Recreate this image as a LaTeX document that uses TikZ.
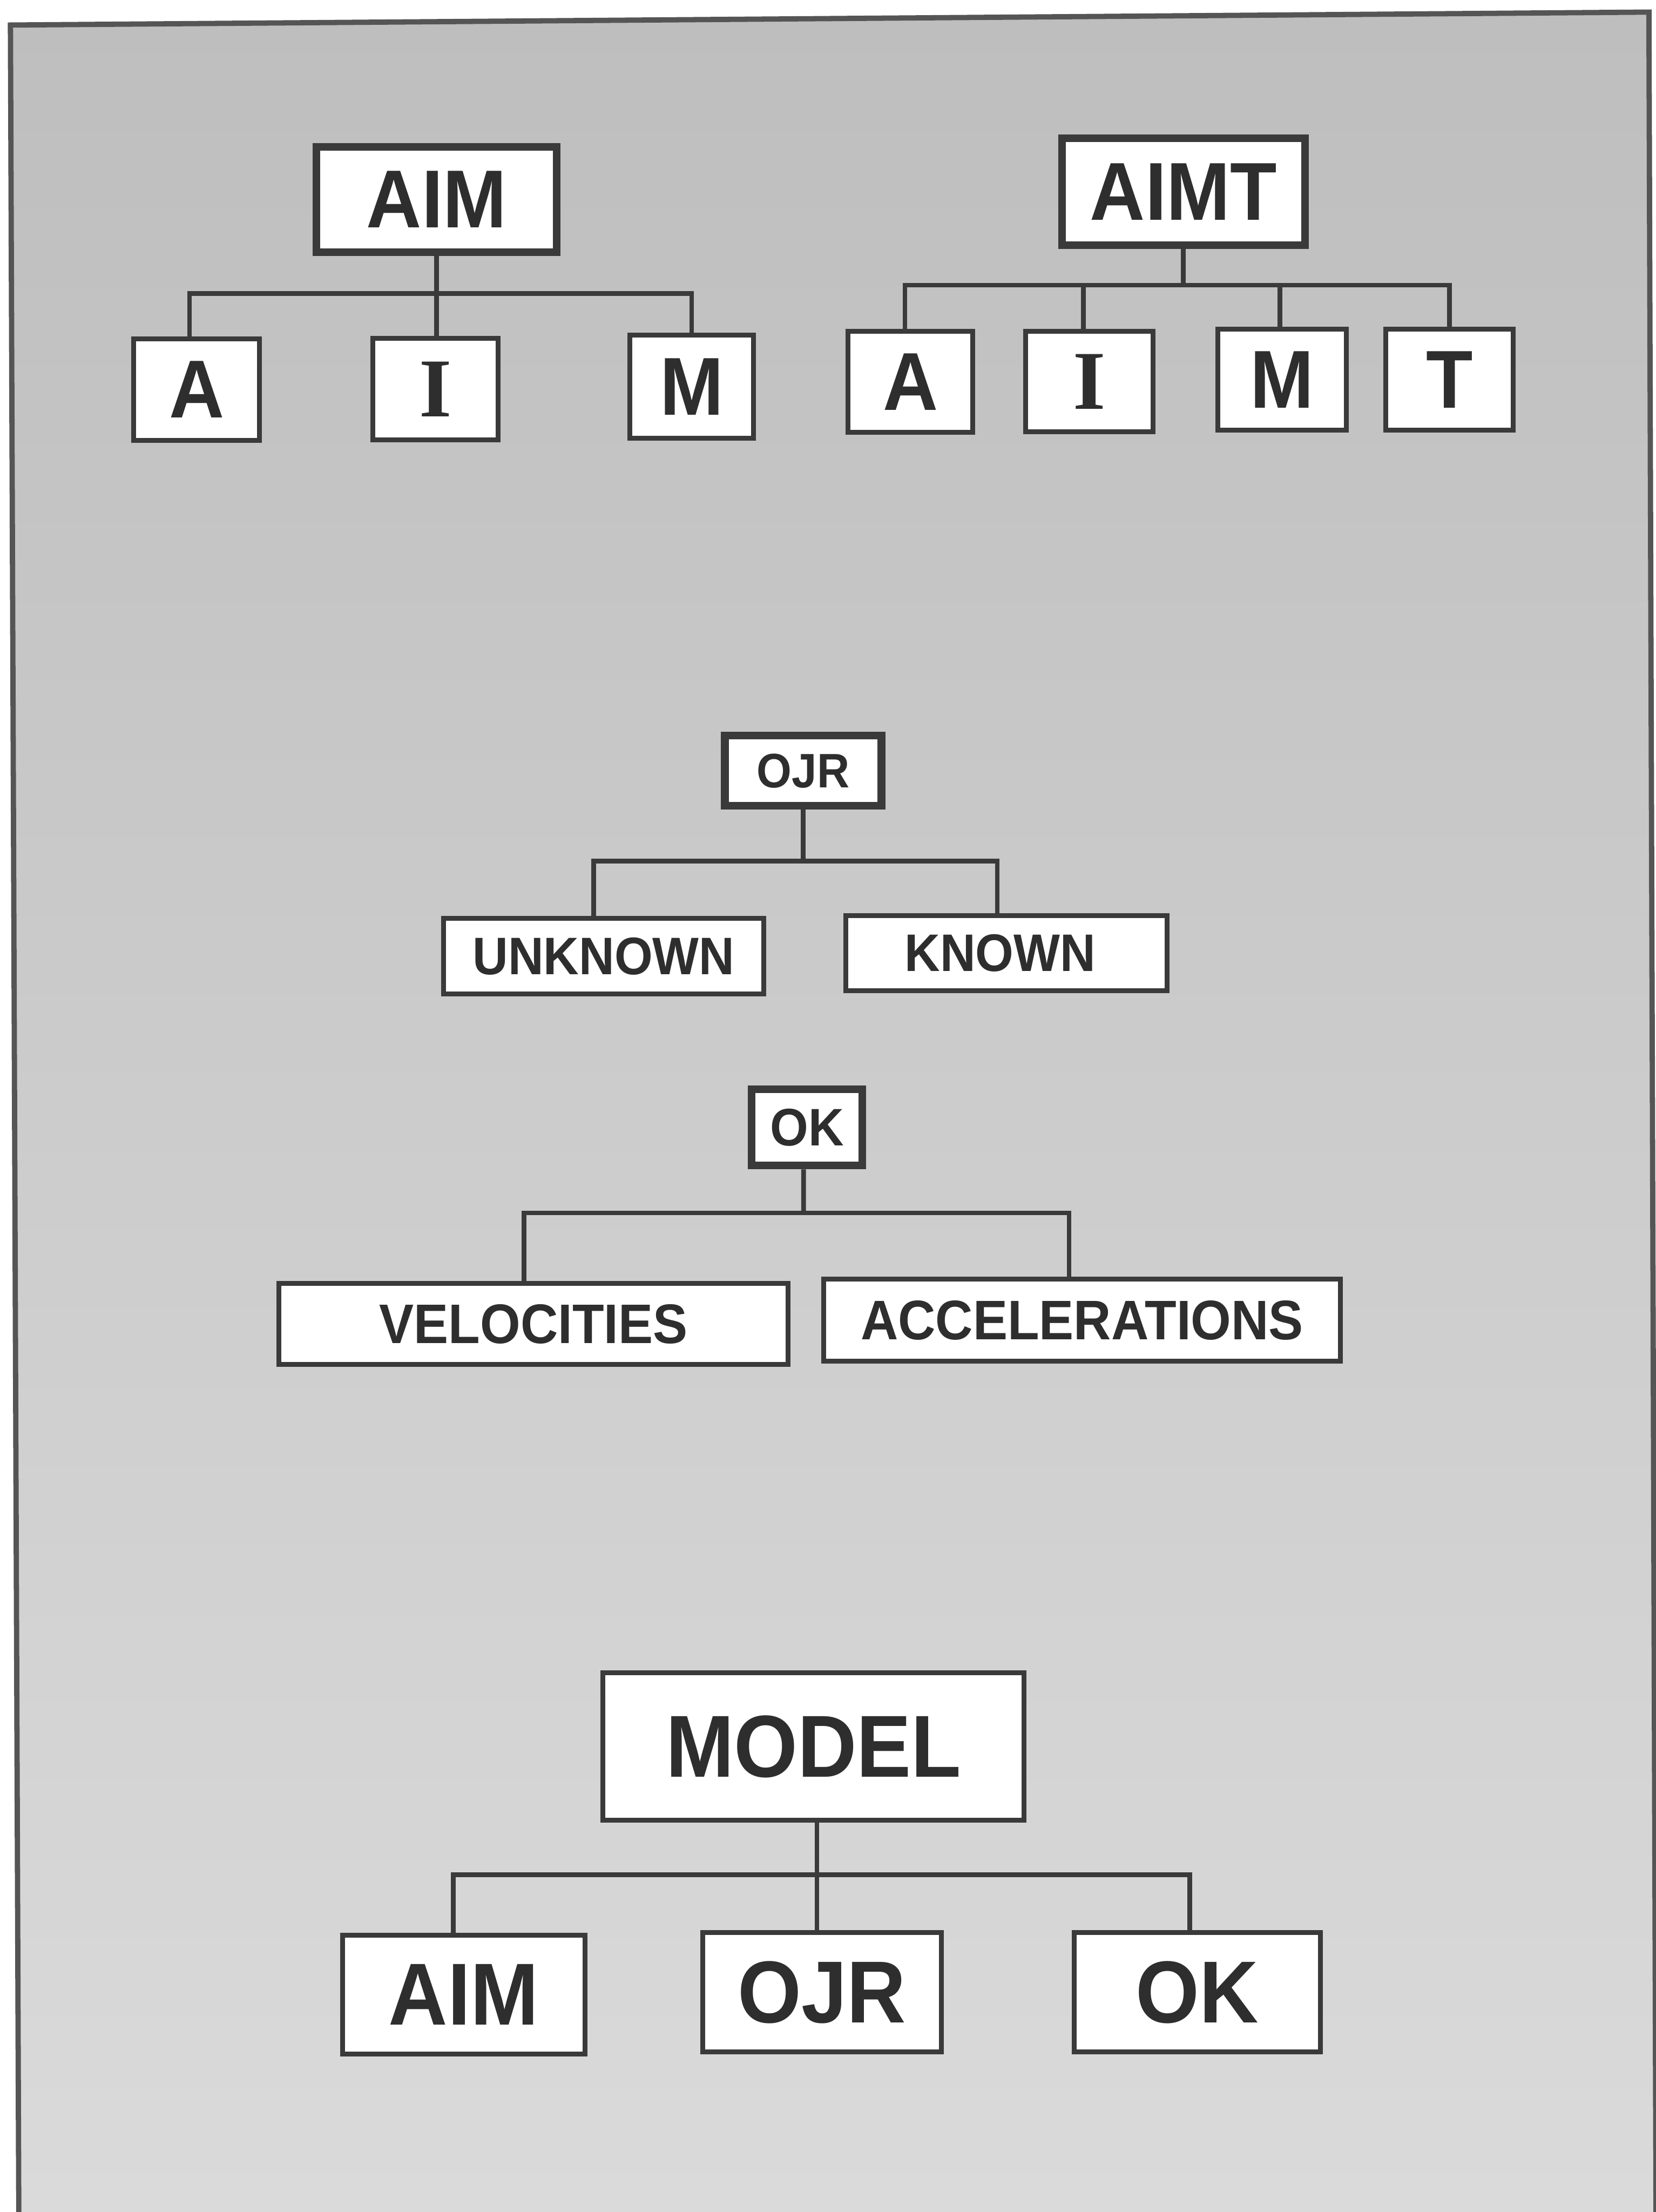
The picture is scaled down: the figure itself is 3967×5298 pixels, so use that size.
\documentclass[tikz,border=0pt]{standalone}
\usepackage{fontspec}
\setmainfont{Liberation Sans}
\newfontfamily\hv[FakeStretch=0.93]{Liberation Sans}
\newfontfamily\tm{Liberation Serif}
\definecolor{boxline}{HTML}{3A3A3A}
\definecolor{txt}{HTML}{2E2E2E}
\definecolor{bgtop}{HTML}{BEBEBE}
\definecolor{bgbot}{HTML}{DADADA}
\definecolor{framecol}{HTML}{555555}
\tikzset{
  rootbox/.style={draw=boxline, line width=5.2pt, fill=white, inner sep=0pt, text=txt, font=\hv\bfseries},
  kidbox/.style={draw=boxline, line width=3.3pt, fill=white, inner sep=0pt, text=txt, font=\hv\bfseries},
  conn/.style={draw=boxline, line width=3.2pt},
  big/.style={font=\hv\bfseries\fontsize{56}{60}\selectfont},
  bigI/.style={font=\tm\bfseries\fontsize{57}{60}\selectfont},
  huge/.style={font=\hv\bfseries\fontsize{60}{64}\selectfont},
  mid/.style={font=\hv\bfseries\fontsize{36}{40}\selectfont},
  midb/.style={font=\hv\bfseries\fontsize{38}{42}\selectfont},
  small/.style={font=\hv\bfseries\fontsize{33}{36}\selectfont},
}
\begin{document}
\begin{tikzpicture}[x=0.1mm, y=-0.1mm]
\useasboundingbox (0,0) rectangle (3967,5298);
\fill[white] (0,0) rectangle (3967,5298);
\shade[top color=bgtop, bottom color=bgbot] (25,60) -- (3950,29) -- (3967,5298) -- (45,5298) -- cycle;
\draw[framecol, line width=3.6pt] (45,5298) -- (25,60) -- (3950,29) -- (3967,5298);

% ---- AIM tree
\node[rootbox, big, minimum width=57.5mm, minimum height=25.3mm] (aimr) at (1046,478) {AIM};
\node[kidbox, big, minimum width=30.2mm, minimum height=24.3mm] (a1) at (471,933) {A};
\node[kidbox, bigI, minimum width=30.0mm, minimum height=24.4mm] (i1) at (1043,932) {I};
\node[kidbox, big, minimum width=29.7mm, minimum height=24.7mm] (m1) at (1657,926) {M};
\coordinate (aimbar) at (1046,703);
\draw[conn] (aimr.south) -- (aimr.south |- i1.north);
\draw[conn] ([xshift=-1.7mm]a1.north) |- (m1.north |- aimbar) -- (m1.north);

% ---- AIMT tree
\node[rootbox, big, minimum width=58.2mm, minimum height=25.6mm] (aimtr) at (2835,459) {AIMT};
\node[kidbox, big, minimum width=29.9mm, minimum height=24.2mm] (a2) at (2181,915) {A};
\node[kidbox, bigI, minimum width=30.5mm, minimum height=24.1mm] (i2) at (2610,914) {I};
\node[kidbox, big, minimum width=30.8mm, minimum height=24.2mm] (m2) at (3071,909) {M};
\node[kidbox, big, minimum width=30.5mm, minimum height=24.2mm] (t2) at (3472,909) {T};
\coordinate (aimtbar) at (2835,683);
\draw[conn] (aimtr.south) -- (aimtbar);
\draw[conn] ([xshift=-1.3mm]a2.north) |- (t2.north |- aimtbar) -- (t2.north);
\draw[conn] ([xshift=-1.5mm]i2.north) -- ([xshift=-1.5mm]i2.north |- aimtbar);
\draw[conn] ([xshift=-0.5mm]m2.north) -- ([xshift=-0.5mm]m2.north |- aimtbar);

% ---- OJR tree
\node[rootbox, small, minimum width=37.5mm, minimum height=16.8mm] (ojr) at (1924,1846) {OJR};
\node[kidbox, mid, minimum width=76.8mm, minimum height=18.1mm] (unk) at (1446,2290) {UNKNOWN};
\node[kidbox, mid, minimum width=76.9mm, minimum height=17.9mm] (kn) at (2411,2283) {\hspace*{-3mm}KNOWN};
\coordinate (ojrbar) at (1922,2062);
\draw[conn] (ojr.south) -- (ojr.south |- ojrbar);
\draw[conn] ([xshift=-2.4mm]unk.north) |- ([xshift=-2.2mm]kn.north |- ojrbar) -- ([xshift=-2.2mm]kn.north);

% ---- OK tree
\node[rootbox, mid, minimum width=26.6mm, minimum height=18.3mm] (ok) at (1933,2700) {OK};
\node[kidbox, midb, minimum width=121.9mm, minimum height=19.4mm] (vel) at (1278,3171) {VELOCITIES};
\node[kidbox, midb, minimum width=123.7mm, minimum height=19.7mm] (acc) at (2592,3162) {ACCELERATIONS};
\coordinate (okbar) at (1925,2905);
\draw[conn] ([xshift=-0.8mm]ok.south) -- (okbar);
\draw[conn] ([xshift=-2.3mm]vel.north) |- ([xshift=-3.1mm]acc.north |- okbar) -- ([xshift=-3.1mm]acc.north);

% ---- MODEL tree
\node[kidbox, huge, minimum width=100.9mm, minimum height=35.4mm] (model) at (1949,4183) {MODEL};
\node[kidbox, huge, minimum width=58.0mm, minimum height=28.5mm] (aim3) at (1111,4777) {AIM};
\node[kidbox, huge, minimum width=57.2mm, minimum height=28.6mm] (ojr3) at (1969,4772) {OJR};
\node[kidbox, huge, minimum width=59.0mm, minimum height=28.6mm] (ok3) at (2868,4772) {OK};
\coordinate (modbar) at (1957,4490);
\draw[conn] (model.south -| modbar) -- (ojr3.north -| modbar);
\draw[conn] ([xshift=-2.5mm]aim3.north) |- ([xshift=-1.8mm]ok3.north |- modbar) -- ([xshift=-1.8mm]ok3.north);
\end{tikzpicture}
\end{document}
